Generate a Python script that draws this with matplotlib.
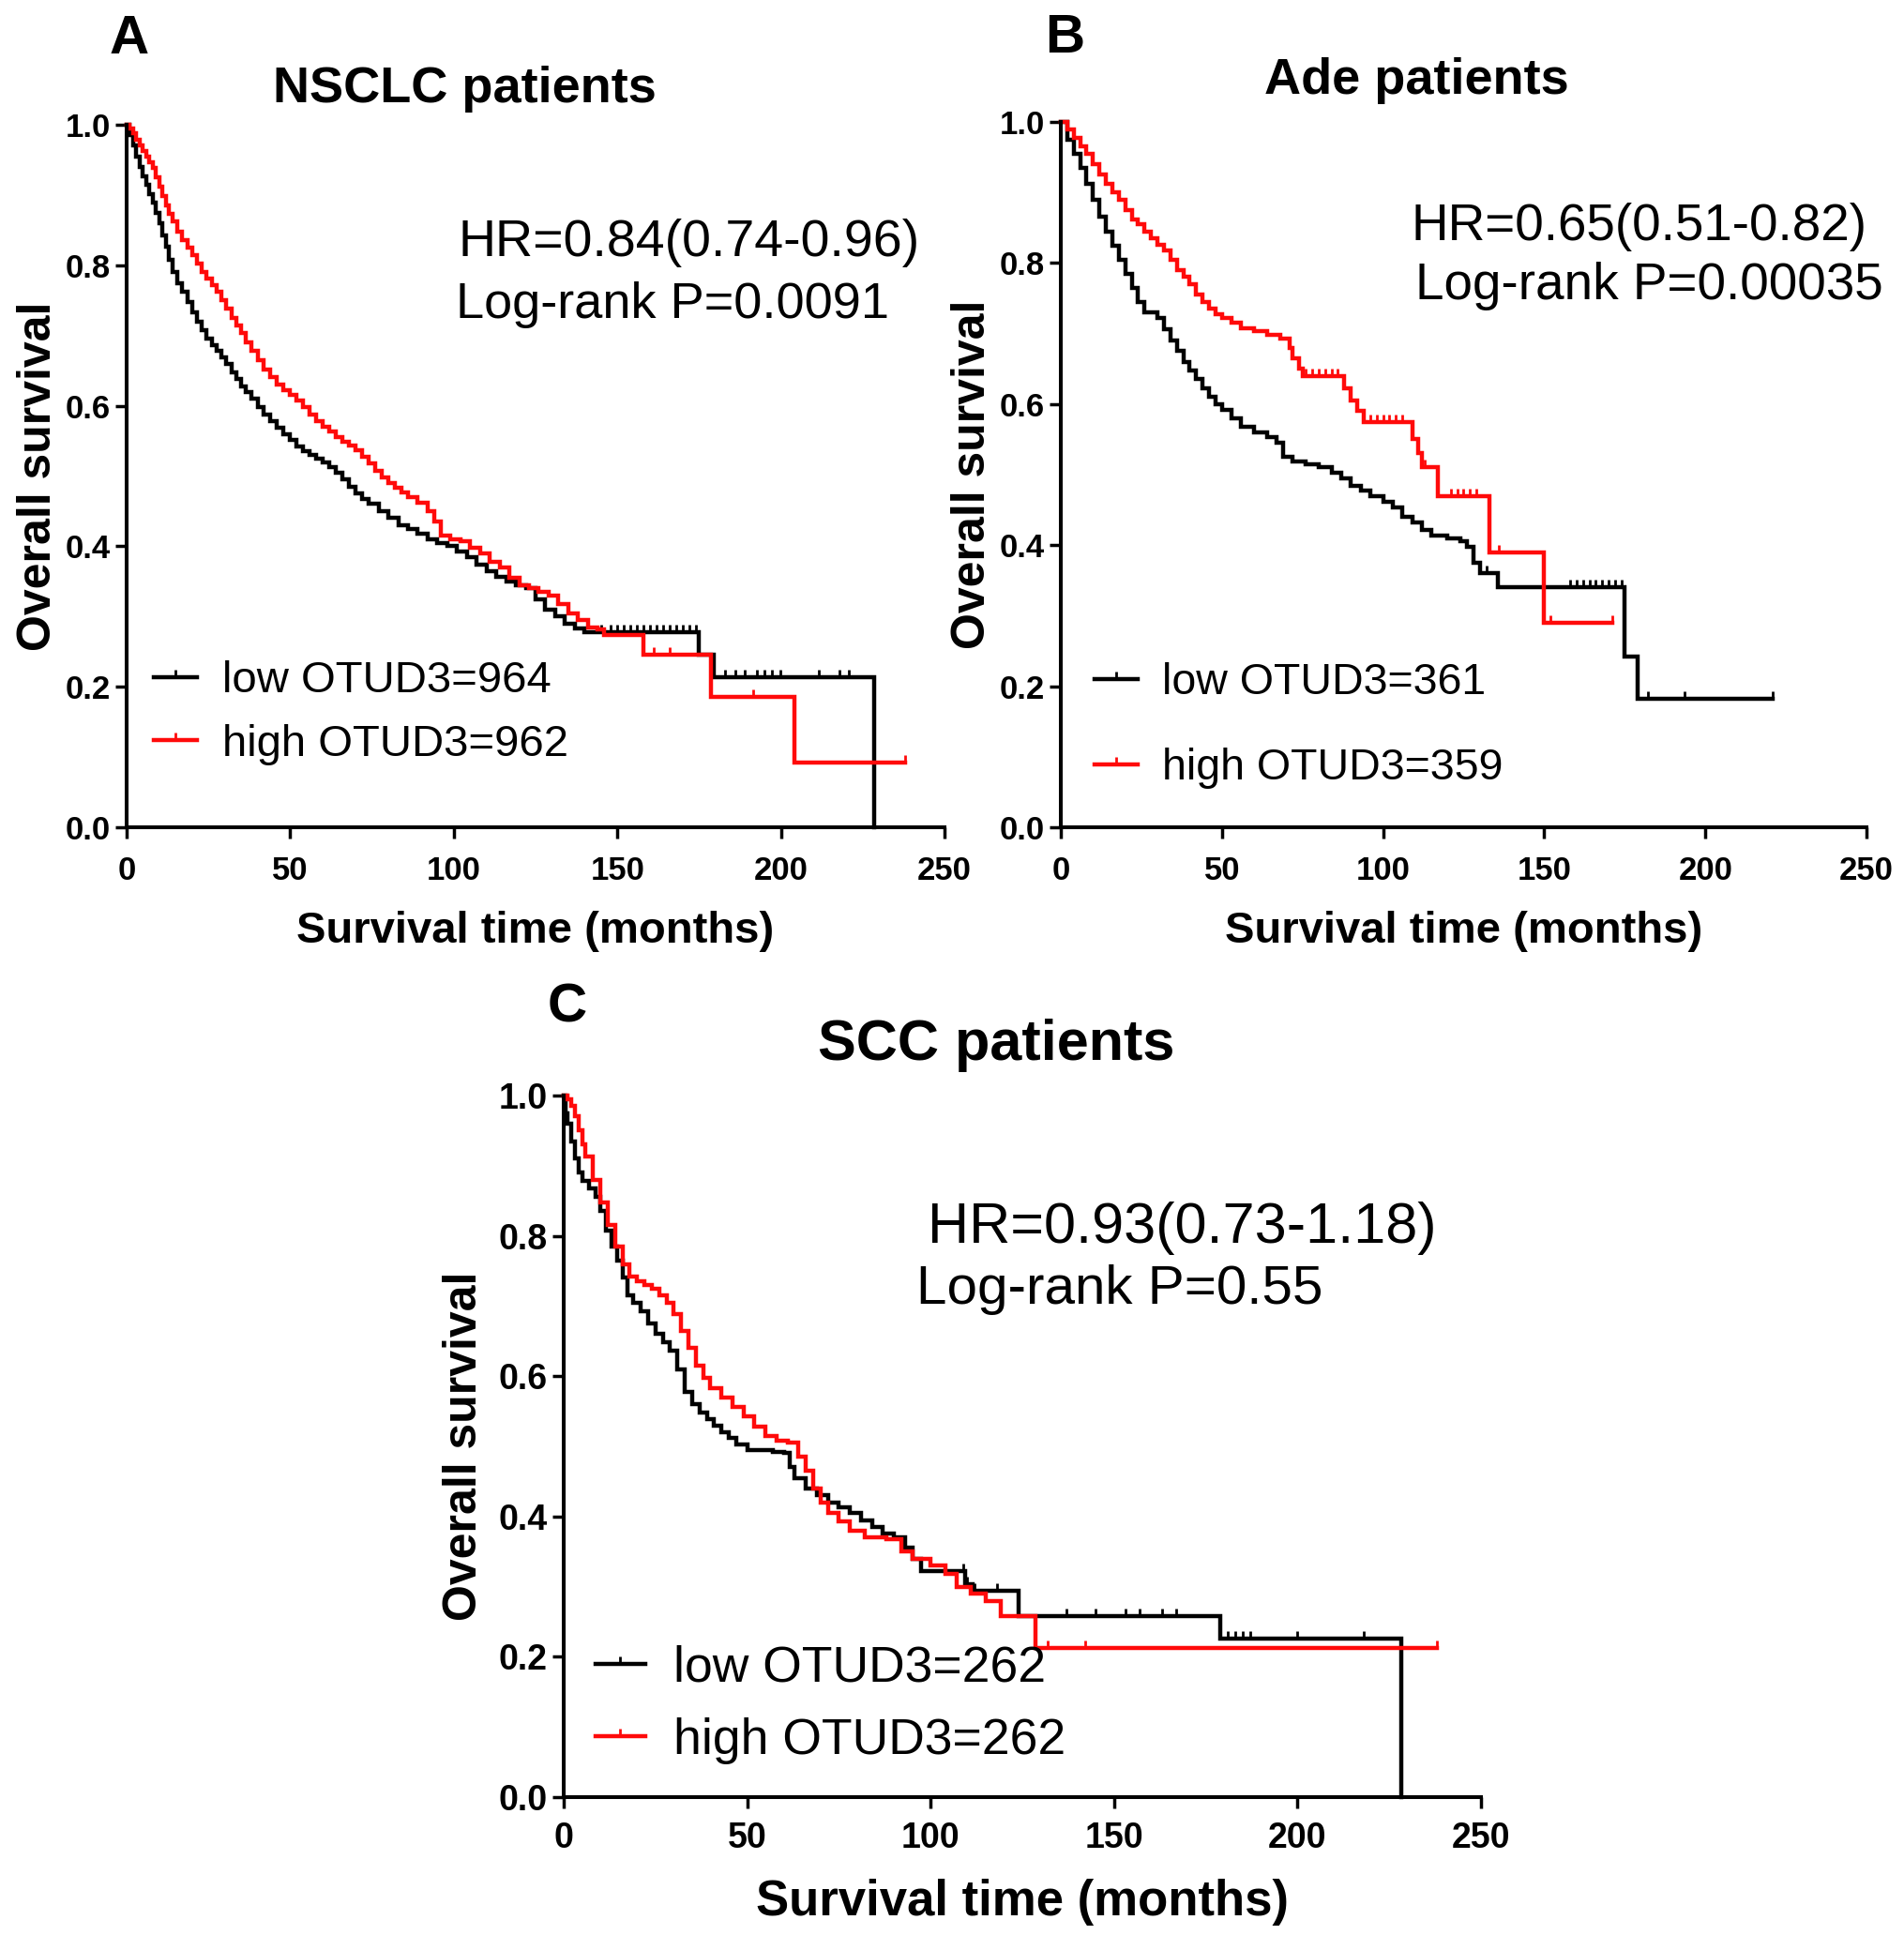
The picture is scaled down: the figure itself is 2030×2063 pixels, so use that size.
import numpy as np
import matplotlib.pyplot as plt
from matplotlib.path import Path
from matplotlib.lines import Line2D

plt.rcParams["font.family"] = ["Liberation Sans", "DejaVu Sans"]

FIG_W, FIG_H = 2031, 2063

# ---------------------------------------------------------------
# Kaplan-Meier step points (months, survival)
# ---------------------------------------------------------------

# A: NSCLC patients
a_low_t = [0, 1, 2, 3, 4, 5, 6, 7, 8, 9, 10, 11, 12, 13, 14, 15.5, 17, 18.5,
           20, 21.5, 23, 24.5, 26, 27.5, 29, 30.5, 32, 33.5, 35, 36.5, 38,
           40, 42, 44, 46, 48, 50, 52, 54, 56, 58, 60, 62, 64, 66, 68, 70,
           72, 74, 77, 80, 83, 86, 89, 92, 95, 98, 101, 104, 107, 110, 113,
           116, 119, 122, 125, 128, 131, 134, 137, 140, 175, 179.5, 228.5]
a_low_s = [1.0, 0.985, 0.97, 0.955, 0.94, 0.927, 0.914, 0.901, 0.889, 0.875,
           0.86, 0.843, 0.826, 0.808, 0.79, 0.775, 0.762, 0.748, 0.733, 0.72,
           0.707, 0.695, 0.686, 0.678, 0.669, 0.659, 0.648, 0.638, 0.628,
           0.619, 0.61, 0.598, 0.588, 0.578, 0.569, 0.56, 0.551, 0.542,
           0.535, 0.53, 0.525, 0.52, 0.513, 0.505, 0.495, 0.485, 0.475,
           0.467, 0.46, 0.45, 0.44, 0.43, 0.424, 0.418, 0.41, 0.405, 0.40,
           0.393, 0.385, 0.374, 0.364, 0.357, 0.35, 0.344, 0.34, 0.325, 0.31,
           0.30, 0.29, 0.283, 0.278, 0.245, 0.214, 0.0]
a_low_cens = [145, 148, 150, 152, 154, 156, 158, 160, 162, 164, 166, 168,
              170, 172, 174, 183, 186, 189, 192.7, 195, 197.3, 199.8,
              211.6, 217.9, 220.8]

a_high_t = [0, 1, 2, 3, 4, 5, 6, 7, 8, 9, 10, 11, 12, 13, 14, 15.5, 17, 18.5,
            20, 21.5, 23, 24.5, 26, 27.5, 29, 30.5, 32, 33.5, 35, 36.5, 38,
            40, 42, 44, 46, 48, 50, 52, 54, 56, 58, 60, 62, 64, 66, 68, 70,
            72, 74, 76, 78, 80, 82, 84, 86, 89, 92, 94, 96, 99, 102, 105, 108,
            111, 114, 117, 120, 123, 126, 129, 132, 135, 138, 141, 144, 146,
            158, 178.5, 204, 238]
a_high_s = [1.0, 0.995, 0.988, 0.978, 0.97, 0.962, 0.954, 0.946, 0.938,
            0.925, 0.912, 0.898, 0.885, 0.873, 0.862, 0.848, 0.836, 0.825,
            0.814, 0.802, 0.79, 0.781, 0.772, 0.763, 0.75, 0.738, 0.725,
            0.714, 0.703, 0.69, 0.678, 0.665, 0.652, 0.641, 0.63, 0.622,
            0.615, 0.607, 0.598, 0.588, 0.578, 0.57, 0.563, 0.556, 0.549,
            0.543, 0.537, 0.528, 0.518, 0.507, 0.498, 0.49, 0.483, 0.476,
            0.47, 0.462, 0.45, 0.435, 0.415, 0.41, 0.407, 0.398, 0.39, 0.378,
            0.37, 0.355, 0.345, 0.34, 0.335, 0.33, 0.318, 0.305, 0.295, 0.285,
            0.282, 0.274, 0.245, 0.186, 0.092, 0.092]
a_high_cens = [161, 166, 191.5, 238]

# B: Ade patients
b_low_t = [0, 2, 4, 6, 8, 10, 12, 14, 16, 18, 20, 22, 24, 26, 30, 32, 34, 36,
           38, 40, 42, 44, 46, 48, 50, 53, 56, 60, 64, 67, 69, 72, 76, 80,
           84, 87, 90, 93, 96, 100, 103, 106, 109, 112, 115, 120, 124, 126,
           128, 130, 135.5, 175, 179, 221]
b_low_s = [1.0, 0.975, 0.955, 0.935, 0.912, 0.89, 0.866, 0.845, 0.825, 0.805,
           0.785, 0.765, 0.745, 0.73, 0.722, 0.706, 0.69, 0.675, 0.66, 0.647,
           0.635, 0.622, 0.61, 0.60, 0.592, 0.58, 0.568, 0.56, 0.553, 0.545,
           0.525, 0.518, 0.514, 0.51, 0.503, 0.495, 0.484, 0.478, 0.47,
           0.462, 0.453, 0.44, 0.432, 0.422, 0.414, 0.41, 0.405, 0.397,
           0.375, 0.36, 0.34, 0.242, 0.182, 0.182]
b_low_cens = [132, 158, 160, 162, 164, 166, 168, 170, 172, 174, 182.2,
              193.5, 221]

b_high_t = [0, 2, 4, 6, 8, 10, 12, 14, 16, 18, 20, 22, 24, 26, 28, 30, 32, 34,
            36, 38, 40, 42, 44, 46, 48, 50, 53, 56, 60, 64, 68, 71, 72, 74,
            75, 88, 90, 92, 94, 109, 111, 112, 117, 133, 150, 171]
b_high_s = [1.0, 0.99, 0.978, 0.965, 0.955, 0.94, 0.925, 0.912, 0.90, 0.89,
            0.875, 0.862, 0.855, 0.845, 0.835, 0.826, 0.818, 0.805, 0.79,
            0.78, 0.77, 0.755, 0.745, 0.735, 0.728, 0.722, 0.715, 0.708,
            0.703, 0.698, 0.693, 0.68, 0.665, 0.65, 0.64, 0.622, 0.605, 0.59,
            0.575, 0.55, 0.53, 0.51, 0.47, 0.39, 0.29, 0.29]
b_high_cens = [76, 78, 80, 82, 84, 86, 96, 98, 100, 102, 104, 106, 113, 121,
               123, 125, 127, 129, 136, 152, 171]

# C: SCC patients
c_low_t = [0, 0.5, 1, 2, 3, 4, 5, 7, 8.8, 10, 11.5, 13, 14.5, 16, 17.5, 19,
           21, 23, 25, 27, 29, 31, 33, 35, 37, 39, 41, 43, 45, 47, 50, 53,
           57, 60, 61.5, 63, 66, 69, 72, 75, 78, 81, 84, 87, 90, 93, 95,
           97.5, 109.5, 111.5, 124, 179, 228.3]
c_low_s = [1.0, 0.975, 0.96, 0.935, 0.91, 0.89, 0.878, 0.868, 0.855, 0.835,
           0.808, 0.785, 0.765, 0.74, 0.715, 0.705, 0.693, 0.675, 0.66,
           0.648, 0.637, 0.61, 0.578, 0.56, 0.548, 0.539, 0.53, 0.52, 0.512,
           0.503, 0.495, 0.494, 0.492, 0.49, 0.47, 0.455, 0.44, 0.43, 0.42,
           0.413, 0.405, 0.395, 0.385, 0.376, 0.37, 0.355, 0.34, 0.322,
           0.303, 0.294, 0.258, 0.226, 0.0]
c_low_cens = [109, 110, 112, 118, 137, 145, 153, 157, 163, 167, 181, 183,
              185, 187, 200, 218]

c_high_t = [0, 1, 2, 3, 4, 5, 6, 8, 10, 12, 14, 16, 18, 20, 22, 24, 26, 28,
            30, 32, 34, 36, 38, 40, 43, 46, 49, 52, 55, 58, 61, 64, 66, 68,
            70, 72, 75, 78, 82, 88, 92, 95, 100, 104, 107, 111, 115, 119,
            128.7, 238]
c_high_s = [1.0, 0.995, 0.985, 0.97, 0.95, 0.93, 0.913, 0.88, 0.848, 0.815,
            0.785, 0.76, 0.742, 0.735, 0.73, 0.725, 0.715, 0.705, 0.688,
            0.665, 0.64, 0.615, 0.598, 0.583, 0.57, 0.556, 0.543, 0.528,
            0.515, 0.508, 0.505, 0.485, 0.465, 0.44, 0.42, 0.405, 0.393,
            0.38, 0.37, 0.368, 0.35, 0.34, 0.33, 0.318, 0.30, 0.29, 0.28,
            0.258, 0.213, 0.213]
c_high_cens = [132, 142, 238]

x_ticks = [0, 50, 100, 150, 200, 250]
y_ticks = [0.0, 0.2, 0.4, 0.6, 0.8, 1.0]
y_tick_labels = ["0.0", "0.2", "0.4", "0.6", "0.8", "1.0"]

LOW_COLOR = "black"
HIGH_COLOR = "#ff0a0a"
CURVE_LW = 3.2

# censor mark: short vertical tick rising from the curve
TICK = Path([(0, 0), (0, 1)], [Path.MOVETO, Path.LINETO])


def fig_xy(px, py):
    """Convert pixel position (from top-left) to figure fraction."""
    return px / FIG_W, 1 - py / FIG_H


def axes_rect(left, top, right, bottom):
    x0, y1 = fig_xy(left, top)
    x1, y0 = fig_xy(right, bottom)
    return [x0, y0, x1 - x0, y1 - y0]


def survival_at(t, s, times):
    t = np.asarray(t)
    s = np.asarray(s)
    idx = np.searchsorted(t, times, side="right") - 1
    return s[idx]


def km_panel(ax, curves, fs_tick, fs_xlab, fs_ylab, xtick_pad, xlab_pad,
             ylab_pad):
    for t, s, cens, color in curves:
        ax.step(t, s, where="post", color=color, lw=CURVE_LW,
                clip_on=False, solid_joinstyle="miter")
        ax.plot(cens, survival_at(t, s, cens), linestyle="none",
                marker=TICK, markersize=12, markeredgewidth=2.0,
                color=color, clip_on=False)

    ax.set_xlim(0, 250)
    ax.set_ylim(0, 1.0)
    ax.set_xticks(x_ticks)
    ax.set_yticks(y_ticks)
    ax.set_yticklabels(y_tick_labels)

    for side in ("top", "right"):
        ax.spines[side].set_visible(False)
    for side in ("left", "bottom"):
        ax.spines[side].set_linewidth(2.9)

    ax.tick_params(axis="both", direction="out", length=8.5, width=2.5,
                   labelsize=fs_tick)
    ax.tick_params(axis="y", pad=4)
    ax.tick_params(axis="x", pad=xtick_pad)
    for lab in ax.get_xticklabels() + ax.get_yticklabels():
        lab.set_fontweight("bold")

    ax.set_xlabel("Survival time (months)", fontsize=fs_xlab,
                  fontweight="bold", labelpad=xlab_pad)
    ax.set_ylabel("Overall survival", fontsize=fs_ylab,
                  fontweight="bold", labelpad=ylab_pad)


def km_legend(ax, labels, anchor, fs, spacing):
    handles = [
        Line2D([], [], color=LOW_COLOR, lw=CURVE_LW, marker=TICK,
               markersize=12, markeredgewidth=2.0),
        Line2D([], [], color=HIGH_COLOR, lw=CURVE_LW, marker=TICK,
               markersize=12, markeredgewidth=2.0),
    ]
    ax.legend(handles, labels, loc="center left", bbox_to_anchor=anchor,
              frameon=False, fontsize=fs, handlelength=0.98,
              handletextpad=0.57, labelspacing=spacing, borderpad=0,
              borderaxespad=0, numpoints=1)


fig = plt.figure(figsize=(FIG_W / 100, FIG_H / 100), dpi=100)

ax_a = fig.add_axes(axes_rect(135, 133, 1007, 882))
ax_b = fig.add_axes(axes_rect(1131, 130, 1990, 882))
ax_c = fig.add_axes(axes_rect(601, 1168, 1579, 1916))

km_panel(ax_a, [(a_low_t, a_low_s, a_low_cens, LOW_COLOR),
                (a_high_t, a_high_s, a_high_cens, HIGH_COLOR)],
         fs_tick=25, fs_xlab=34, fs_ylab=36, xtick_pad=13, xlab_pad=19,
         ylab_pad=4)
km_panel(ax_b, [(b_low_t, b_low_s, b_low_cens, LOW_COLOR),
                (b_high_t, b_high_s, b_high_cens, HIGH_COLOR)],
         fs_tick=25, fs_xlab=34, fs_ylab=36, xtick_pad=13, xlab_pad=19,
         ylab_pad=4)
km_panel(ax_c, [(c_low_t, c_low_s, c_low_cens, LOW_COLOR),
                (c_high_t, c_high_s, c_high_cens, HIGH_COLOR)],
         fs_tick=27, fs_xlab=38, fs_ylab=36, xtick_pad=10, xlab_pad=18,
         ylab_pad=10)

km_legend(ax_a, ["low OTUD3=964", "high OTUD3=962"], (0.033, 0.163), 34, 0.5)
km_legend(ax_b, ["low OTUD3=361", "high OTUD3=359"], (0.042, 0.144), 33.5, 1.02)
km_legend(ax_c, ["low OTUD3=262", "high OTUD3=262"], (0.035, 0.132), 38.5, 0.5)

# hazard ratio / log-rank annotations (pixel positions of text baselines)
stats_text = [
    ("HR=0.84(0.74-0.96)", 489, 273, 40),
    ("Log-rank P=0.0091", 486, 339, 39),
    ("HR=0.65(0.51-0.82)", 1505, 256, 39.5),
    ("Log-rank P=0.00035", 1509, 319, 39.5),
    ("HR=0.93(0.73-1.18)", 989, 1325, 44),
    ("Log-rank P=0.55", 977, 1390, 42),
]
for txt, px, py, fs in stats_text:
    fig.text(*fig_xy(px, py), txt, fontsize=fs, ha="left", va="baseline")

# panel letters and titles
titles = [
    ("A", 117, 57, 42, "left"),
    ("NSCLC patients", 495, 109, 39, "center"),
    ("B", 1114, 56, 42, "left"),
    ("Ade patients", 1510, 100, 39, "center"),
    ("C", 584, 1090, 42, "left"),
    ("SCC patients", 1062, 1130, 44, "center"),
]
for txt, px, py, fs, ha in titles:
    fig.text(*fig_xy(px, py), txt, fontsize=fs, fontweight="bold",
             ha=ha, va="baseline")

fig.savefig("out.png", dpi=100)
